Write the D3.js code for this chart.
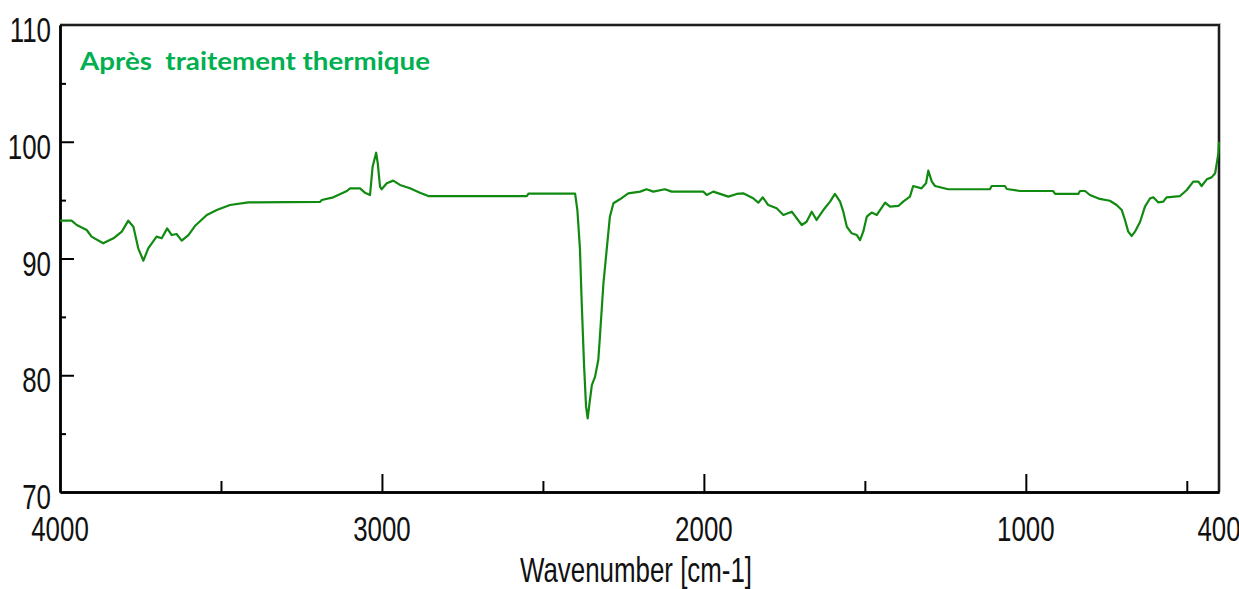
<!DOCTYPE html>
<html>
<head>
<meta charset="utf-8">
<script src="https://cdn.jsdelivr.net/npm/d3@7"></script>
<style>
  html, body { margin: 0; padding: 0; background: #ffffff; }
  svg { display: block; }
</style>
</head>
<body>
<svg id="chart" width="1239" height="589"></svg>
<script>
// FTIR spectrum: wavenumber (cm-1) vs transmittance (%)
const wavenumber = [
  4000, 3964, 3948, 3917, 3902, 3866, 3834, 3808, 3788, 3772, 3757, 3741, 3726, 3700,
  3684, 3667, 3653, 3638, 3622, 3601, 3581, 3544, 3513, 3472, 3415, 3192, 3187, 3151,
  3109, 3099, 3068, 3053, 3037, 3029, 3018, 3013, 3006, 3001, 2985, 2965, 2944, 2913,
  2882, 2856, 2550, 2545, 2400, 2393, 2385, 2380, 2372, 2366, 2361, 2356, 2348, 2338,
  2328, 2323, 2312, 2302, 2292, 2281, 2261, 2235, 2198, 2178, 2157, 2121, 2100, 2002,
  1991, 1971, 1924, 1898, 1878, 1847, 1831, 1817, 1800, 1774, 1753, 1727, 1696, 1681,
  1665, 1650, 1629, 1608, 1593, 1577, 1567, 1556, 1541, 1525, 1515, 1505, 1494, 1479,
  1463, 1437, 1422, 1396, 1381, 1360, 1350, 1324, 1310, 1303, 1292, 1282, 1241, 1111,
  1106, 1065, 1059, 1018, 915, 909, 837, 832, 816, 801, 770, 739, 718, 702,
  692, 682, 671, 661, 645, 630, 614, 604, 589, 573, 563, 521, 500, 480,
  464, 454, 438, 423, 412, 407, 402, 400
];
const transmittance = [
  93.24, 93.24, 92.87, 92.44, 91.87, 91.30, 91.73, 92.30, 93.24, 92.72, 90.87, 89.81, 90.87, 91.87,
  91.73, 92.58, 92.01, 92.10, 91.53, 92.01, 92.78, 93.73, 94.15, 94.58, 94.80, 94.85, 95.01, 95.24,
  95.78, 96.01, 96.01, 95.64, 95.44, 97.86, 99.06, 98.15, 96.15, 95.93, 96.44, 96.67, 96.30, 96.01,
  95.64, 95.35, 95.35, 95.55, 95.55, 94.15, 90.87, 86.59, 80.73, 77.31, 76.31, 77.45, 79.16, 79.88,
  81.31, 83.30, 87.88, 90.73, 93.58, 94.73, 95.07, 95.58, 95.73, 95.93, 95.73, 95.93, 95.73, 95.73,
  95.44, 95.73, 95.30, 95.53, 95.58, 95.16, 94.78, 95.24, 94.58, 94.30, 93.73, 94.01, 92.87, 93.15,
  94.01, 93.30, 94.15, 94.87, 95.53, 94.87, 94.01, 92.72, 92.16, 92.01, 91.58, 92.30, 93.58, 93.93,
  93.73, 94.78, 94.44, 94.50, 94.87, 95.30, 96.21, 96.01, 96.44, 97.52, 96.58, 96.21, 95.93, 95.95,
  96.21, 96.21, 95.95, 95.78, 95.78, 95.53, 95.53, 95.78, 95.78, 95.44, 95.10, 94.95, 94.58, 94.15,
  93.30, 92.30, 91.93, 92.30, 93.15, 94.44, 95.16, 95.24, 94.81, 94.87, 95.24, 95.35, 95.87, 96.58,
  96.58, 96.21, 96.78, 96.95, 97.30, 98.15, 99.01, 100.0
];

const xMajorTicks = [4000, 3000, 2000, 1000, 400];
const xMinorTicks = [3500, 2500, 1500, 500];
const yMajorTicks = [110, 100, 90, 80, 70];
const yMinorTicks = [105, 95, 85, 75];

const titleText = "Après  traitement thermique";
const xAxisTitle = "Wavenumber [cm-1]";

const svg = d3.select("#chart");
const plotLeft = 60, plotRight = 1219, plotTop = 25, plotBottom = 492;

const x = d3.scaleLinear().domain([4000, 400]).range([plotLeft, plotRight]);
const y = d3.scaleLinear().domain([70, 110]).range([plotBottom, plotTop]);

const axisFont = "'Liberation Sans', Arial, sans-serif";
const squeeze = 0.74;

// frame (top and right edges)
svg.append("path")
  .attr("d", `M${plotLeft},${plotTop}H${plotRight}V${plotBottom}`)
  .attr("fill", "none")
  .attr("stroke", "#bdbdbd")
  .attr("stroke-width", 4);
svg.append("path")
  .attr("d", `M${plotLeft},${plotTop}H${plotRight}V${plotBottom}`)
  .attr("fill", "none")
  .attr("stroke", "#1e1e1e")
  .attr("stroke-width", 2);

// x axis: ticks point into the plot
const xAxisMajor = d3.axisBottom(x)
  .tickValues(xMajorTicks.filter(v => v !== 4000 && v !== 400))
  .tickSizeInner(-18).tickSizeOuter(0).tickFormat("");
const xAxisMinor = d3.axisBottom(x)
  .tickValues(xMinorTicks)
  .tickSizeInner(-11).tickSizeOuter(0).tickFormat("");

const gx = svg.append("g").attr("transform", `translate(0,${plotBottom})`);
gx.call(xAxisMajor);
gx.append("g").call(xAxisMinor);

// y axis
const yAxisMajor = d3.axisLeft(y)
  .tickValues(yMajorTicks.filter(v => v !== 70 && v !== 110))
  .tickSizeInner(-14).tickSizeOuter(0).tickFormat("");
const yAxisMinor = d3.axisLeft(y)
  .tickValues(yMinorTicks)
  .tickSizeInner(-6).tickSizeOuter(0).tickFormat("");

const gy = svg.append("g").attr("transform", `translate(${plotLeft},0)`);
gy.call(yAxisMajor);
gy.append("g").call(yAxisMinor);

svg.selectAll(".domain").attr("stroke", "#000").attr("stroke-width", 2.4);
svg.selectAll(".tick line").attr("stroke", "#000").attr("stroke-width", 2);

// tick labels (condensed)
svg.append("g").selectAll("text")
  .data(xMajorTicks)
  .join("text")
  .attr("transform", d => `translate(${x(d)},541) scale(${squeeze},1)`)
  .attr("text-anchor", "middle")
  .attr("font-family", axisFont)
  .attr("font-size", 35)
  .attr("fill", "#111")
  .text(d => d);

svg.append("g").selectAll("text")
  .data(yMajorTicks)
  .join("text")
  .attr("transform", d => `translate(51,${y(d) + 17}) scale(${squeeze},1)`)
  .attr("text-anchor", "end")
  .attr("font-family", axisFont)
  .attr("font-size", 35)
  .attr("fill", "#111")
  .text(d => d);

// axis title
svg.append("text")
  .attr("transform", `translate(636,582) scale(${squeeze},1)`)
  .attr("text-anchor", "middle")
  .attr("font-family", axisFont)
  .attr("font-size", 35)
  .attr("fill", "#111")
  .text(xAxisTitle);

// spectrum
const points = wavenumber.map((w, i) => [w, transmittance[i]]);
const line = d3.line()
  .x(d => x(d[0]))
  .y(d => y(d[1]))
  .curve(d3.curveLinear);

svg.append("path")
  .datum(points)
  .attr("d", line)
  .attr("fill", "none")
  .attr("stroke", "#118a11")
  .attr("stroke-width", 2.2)
  .attr("stroke-linejoin", "round");

// annotation
svg.append("text")
  .attr("x", 80)
  .attr("y", 70)
  .attr("font-family", "Lato, 'Open Sans', sans-serif")
  .attr("font-weight", "bold")
  .attr("font-size", 25)
  .attr("fill", "#00b050")
  .style("white-space", "pre")
  .attr("textLength", 350)
  .attr("lengthAdjust", "spacingAndGlyphs")
  .text(titleText);
</script>
</body>
</html>
